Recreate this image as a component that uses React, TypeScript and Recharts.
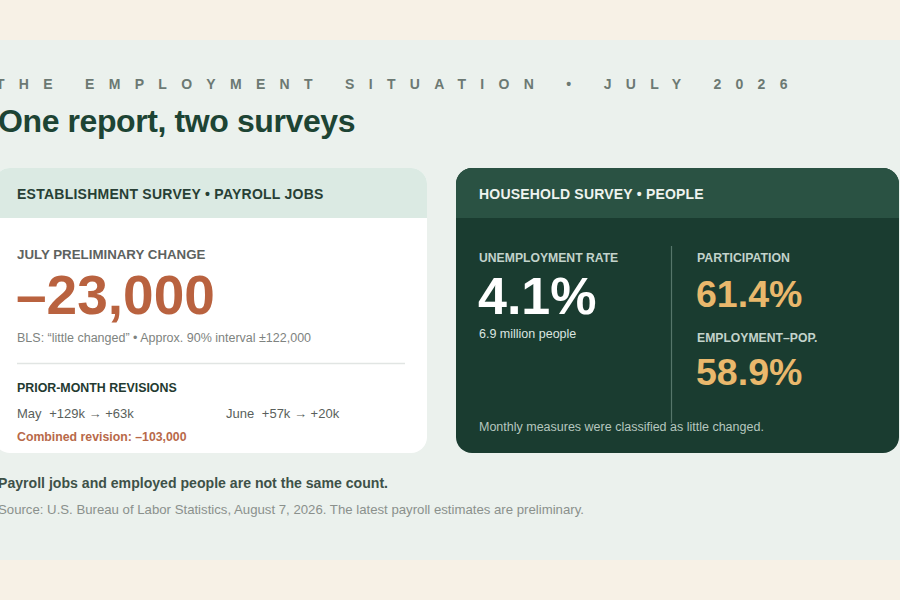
import React from 'react';
import { Surface, Layer, Rectangle } from 'recharts';

// ---- data ----
const kicker = 'THE EMPLOYMENT SITUATION • JULY 2026';
const title = 'One report, two surveys';
const cardTitles = ['ESTABLISHMENT SURVEY • PAYROLL JOBS', 'HOUSEHOLD SURVEY • PEOPLE'];
const julyChange = -23000;
const intervalWidth = 122000;
const revisionMonths = ['May', 'June'];
const revisionFromK = [129, 57];
const revisionToK = [63, 20];
const householdLabels = ['UNEMPLOYMENT RATE', 'PARTICIPATION', 'EMPLOYMENT–POP.'];
const householdValues = [4.1, 61.4, 58.9];
const unemployedMillions = 6.9;
const householdNote = 'Monthly measures were classified as little changed.';
const takeaway = 'Payroll jobs and employed people are not the same count.';
const sourceNote = 'Source: U.S. Bureau of Labor Statistics, August 7, 2026. The latest payroll estimates are preliminary.';

const FONT = '"Liberation Sans", Arial, Helvetica, sans-serif';
const fmtInt = (v: number) => (v < 0 ? '–' : '') + Math.abs(v).toLocaleString('en-US');
const fmtK = (v: number) => (v >= 0 ? '+' : '–') + Math.abs(v) + 'k';

export default function App() {
  const combined = revisionToK.reduce((s, v, i) => s + v - revisionFromK[i], 0) * 1000;
  return (
    <div style={{ position: 'absolute', left: 0, top: 0, width: 900, height: 600 }}>
      <Surface width={900} height={600} viewBox={{ x: 0, y: 0, width: 900, height: 600 }}>
        <Layer>
          <rect x={0} y={0} width={900} height={600} fill="#f7f1e6" />
          <rect x={0} y={40} width={900} height={520} fill="#ebf1ed" />
          <text x={-4} y={89} fontFamily={FONT} fontSize={14} fontWeight={700} fill="#6c7973" style={{ letterSpacing: '14.3px' }}>
            {kicker}
          </text>
          <text x={-2} y={132} fontFamily={FONT} fontSize={32} fontWeight={700} fill="#1d4434" style={{ letterSpacing: '-0.4px' }}>
            {title}
          </text>
        </Layer>

        {/* Establishment card */}
        <Layer>
          <Rectangle x={-6} y={168} width={433} height={285} radius={16} fill="#ffffff" />
          <Rectangle x={-6} y={168} width={433} height={50} radius={[16, 16, 0, 0]} fill="#dbeae3" />
          <text x={17} y={199} fontFamily={FONT} fontSize={14} fontWeight={700} fill="#283f35" style={{ letterSpacing: '0.25px' }}>
            {cardTitles[0]}
          </text>
          <text x={17} y={259} fontFamily={FONT} fontSize={13.3} fontWeight={700} fill="#5d625f">
            JULY PRELIMINARY CHANGE
          </text>
          <text x={16} y={314} fontFamily={FONT} fontSize={55} fontWeight={700} fill="#b9623f">
            {fmtInt(julyChange)}
          </text>
          <text x={17} y={342} fontFamily={FONT} fontSize={12.5} fill="#7e8380">
            {'BLS: “little changed” • Approx. 90% interval ±' + intervalWidth.toLocaleString('en-US')}
          </text>
          <line x1={17} x2={405} y1={363.5} y2={363.5} stroke="#e1e5e3" strokeWidth={1.5} />
          <text x={17} y={392} fontFamily={FONT} fontSize={12.4} fontWeight={700} fill="#233a30">
            PRIOR-MONTH REVISIONS
          </text>
          {revisionMonths.map((m, i) => (
            <text key={m} x={i === 0 ? 17 : 226} y={418} fontFamily={FONT} fontSize={13} fill="#5a5f5c">
              <tspan>{m}</tspan>
              <tspan dx={4}>{' ' + fmtK(revisionFromK[i]) + ' → ' + fmtK(revisionToK[i])}</tspan>
            </text>
          ))}
          <text x={17} y={441} fontFamily={FONT} fontSize={12.3} fontWeight={700} fill="#b86949">
            {'Combined revision: ' + fmtInt(combined)}
          </text>
        </Layer>

        {/* Household card */}
        <Layer>
          <Rectangle x={456} y={168} width={443} height={285} radius={16} fill="#1a3c30" />
          <Rectangle x={456} y={168} width={443} height={50} radius={[16, 16, 0, 0]} fill="#2a5243" />
          <text x={479} y={199} fontFamily={FONT} fontSize={14} fontWeight={700} fill="#eef3ef" style={{ letterSpacing: '0.2px' }}>
            {cardTitles[1]}
          </text>
          <line x1={671.5} x2={671.5} y1={246} y2={423} stroke="#56766a" strokeWidth={1.2} />
          <text x={479} y={262} fontFamily={FONT} fontSize={12.2} fontWeight={700} fill="#c3d3cb">
            {householdLabels[0]}
          </text>
          <text x={478} y={314} fontFamily={FONT} fontSize={52} fontWeight={700} fill="#ffffff">
            {householdValues[0].toFixed(1) + '%'}
          </text>
          <text x={479} y={337.5} fontFamily={FONT} fontSize={12.5} fill="#dce5e0">
            {unemployedMillions.toFixed(1) + ' million people'}
          </text>
          <text x={697} y={262} fontFamily={FONT} fontSize={12.3} fontWeight={700} fill="#c3d3cb">
            {householdLabels[1]}
          </text>
          <text x={696} y={307} fontFamily={FONT} fontSize={37.5} fontWeight={700} fill="#e9b86c">
            {householdValues[1].toFixed(1) + '%'}
          </text>
          <text x={697} y={341.5} fontFamily={FONT} fontSize={12.2} fontWeight={700} fill="#c3d3cb">
            {householdLabels[2]}
          </text>
          <text x={696} y={385} fontFamily={FONT} fontSize={37.5} fontWeight={700} fill="#e9b86c">
            {householdValues[2].toFixed(1) + '%'}
          </text>
          <text x={479} y={430.5} fontFamily={FONT} fontSize={12.5} fill="#b6c7bf">
            {householdNote}
          </text>
        </Layer>

        {/* Footer */}
        <Layer>
          <text x={-2} y={488} fontFamily={FONT} fontSize={14.1} fontWeight={700} fill="#3e5148">
            {takeaway}
          </text>
          <text x={-2} y={513.5} fontFamily={FONT} fontSize={13.2} fill="#8a908c">
            {sourceNote}
          </text>
        </Layer>
      </Surface>
    </div>
  );
}
